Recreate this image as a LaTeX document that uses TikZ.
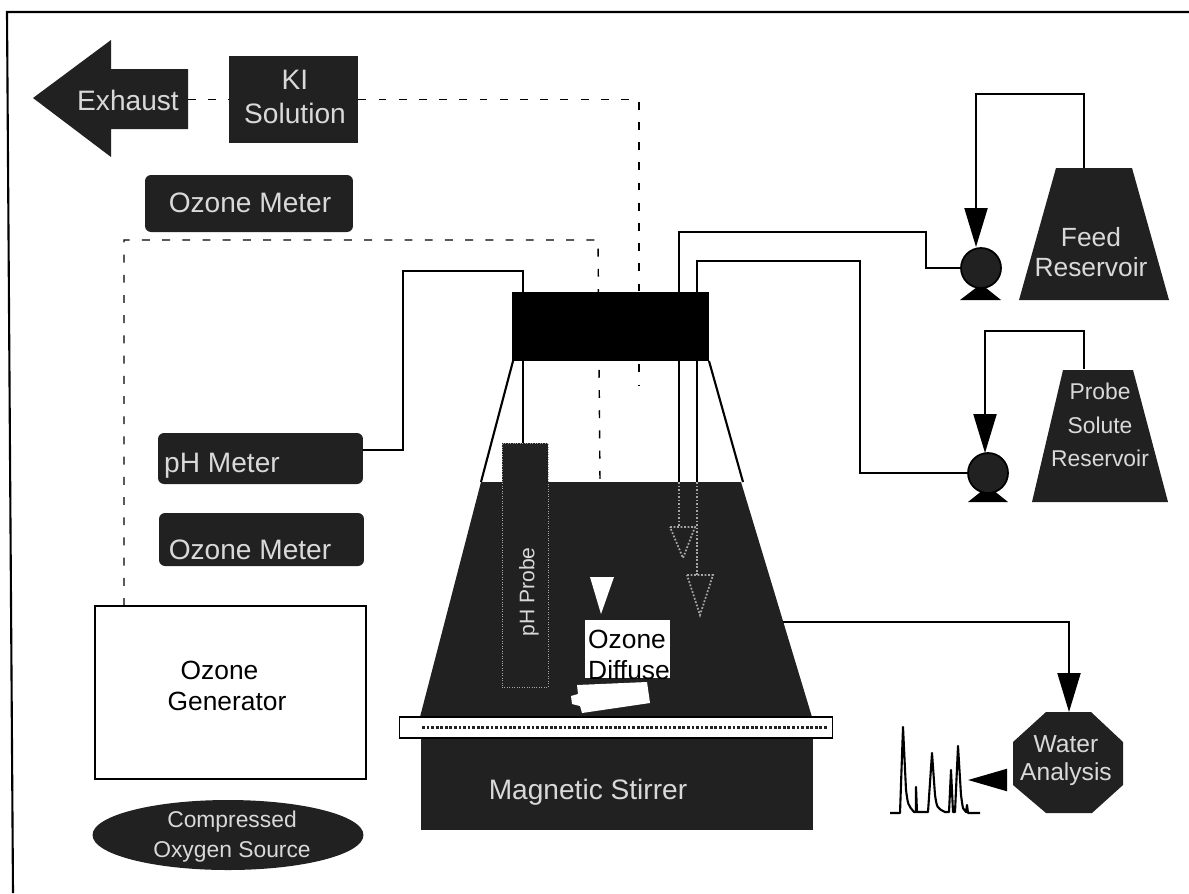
\documentclass[tikz,border=0pt]{standalone}
\usepackage{fontspec}
\setmainfont{Liberation Sans}
\usetikzlibrary{arrows.meta,shapes.geometric}
\definecolor{darkfill}{gray}{0.13}
\tikzset{
  darkbox/.style={rectangle,fill=darkfill,inner sep=0pt},
  meterbox/.style={darkbox,rounded corners=0.12cm},
  darklabel/.style={text=white!85!black,align=center,inner sep=0pt,font=\fontsize{16}{19}\selectfont},
  lightlabel/.style={text=black,align=center,inner sep=0pt,font=\fontsize{15}{18}\selectfont},
  gasline/.style={line width=0.8pt,dash pattern=on 4.5pt off 7pt},
  pipeline/.style={line width=1.2pt},
  bigarrow/.style={pipeline,-{Triangle[length=0.78cm,width=0.46cm]}},
  faintline/.style={gray!70,line width=1pt,densely dotted},
  pumpball/.style={circle,fill=darkfill,draw=black,line width=1pt,inner sep=0pt,minimum size=0.8cm}
}
\begin{document}
\begin{tikzpicture}[x=0.02cm,y=-0.02cm]
\useasboundingbox (0,0) rectangle (1189,893);
\draw[line width=1.2pt] (1189,12) -- (7,12) -- (13,893);
% points where the pipes stop
\coordinate (exhausttail) at (188,99.5);
\coordinate (capgas) at (639,385);
\coordinate (gentop) at (124,606);
\coordinate (liquidgas) at (600,482);
\coordinate (capfeedA) at (679,300);
\coordinate (capfeedB) at (697,300);
\coordinate (pumpAin) at (976,247);
\coordinate (pumpBin) at (985,453);
\coordinate (resAtop) at (1084,168);
\coordinate (resBtop) at (1084,369);
\coordinate (captop) at (523,292);
\coordinate (liquidout) at (783,622);
\coordinate (watertop) at (1069,712);
\coordinate (waterout) at (1007,780);
\coordinate (chromtip) at (968,780);
% left column
\fill[darkfill] (33,98) -- (111,40) -- (111,69) -- (188,69) -- (188,129) -- (111,129) -- (111,157) -- cycle;
\node[darklabel] (exhaust) at (128,100) {Exhaust};
\node[darkbox,minimum width=2.58cm,minimum height=1.74cm] (kibox) at (293.5,99.5) {};
\node[darklabel] (kitext) at (295,97) {KI\\Solution};
\node[meterbox,minimum width=4.16cm,minimum height=1.14cm] (ozonetop) at (249,203.5) {};
\node[darklabel] (ozonetoptext) at (250,203) {Ozone Meter};
\node[meterbox,minimum width=4.1cm,minimum height=1.02cm] (phmeter) at (260.5,458.5) {};
\node[darklabel] (phtext) at (222,466) {pH Meter};
\node[meterbox,minimum width=4.1cm,minimum height=1.06cm] (ozonelow) at (261.5,539.5) {};
\node[darklabel] (ozonelowtext) at (250,550) {Ozone Meter};
\node[draw,line width=1.2pt,rectangle,inner sep=0pt,minimum width=5.42cm,minimum height=3.46cm] (generator) at (230.5,692.5) {};
\node[lightlabel] (generatortext) at (227,686) {Ozone\hspace*{0.3cm}\\Generator};
\node[ellipse,fill=darkfill,inner sep=0pt,minimum width=5.42cm,minimum height=1.4cm] (oxygen) at (228,835) {};
\node[darklabel,font=\fontsize{13}{17}\selectfont] (oxygentext) at (232,837) {Compressed\\Oxygen Source};
% gas lines go under the cap
\draw[gasline] (exhausttail) -- (kibox.west);
\draw[gasline] (kibox.east) -| (capgas);
\draw[gasline] (gentop) -- (124,240) -- (598,240) -- (liquidgas);
% flask
\draw[pipeline] (513,361) -- (481,482);
\draw[pipeline] (709,361) -- (743,482);
\fill[darkfill] (481,482) -- (741,482) -- (812,717) -- (420,717) -- cycle;
\node[rectangle,fill=black,inner sep=0pt,minimum width=3.96cm,minimum height=1.38cm] (cap) at (610.5,326.5) {};
\node[darkbox,draw=gray!70,densely dotted,minimum width=0.92cm,minimum height=4.88cm] (probe) at (525,565) {};
\node[darklabel,rotate=90,font=\fontsize{12}{14}\selectfont] (probetext) at (529,592) {pH Probe};
\draw[pipeline] (cap.south -| captop) -- (probe.north -| captop);
\draw[pipeline] (679,361) -- (679,482);
\draw[pipeline] (697,361) -- (697,482);
\draw[faintline] (679,482) -- (679,527);
\draw[faintline] (697,482) -- (697,575);
\draw[faintline] (670,527) -- (695,527) -- (683,558) -- cycle;
\draw[faintline] (687,575) -- (713,575) -- (700,615) -- cycle;
% diffuser
\fill[white] (590,577) -- (614,577) -- (601,614) -- cycle;
\node[rectangle,fill=white,inner sep=0pt,minimum width=1.7cm,minimum height=1.16cm] (diffuser) at (627.5,649) {};
\node[lightlabel,align=left] (diffusertext) at (629,655) {Ozone\\Diffuse};
\fill[white] (577,685) -- (647,682) -- (650,703) -- (582,713) -- (580,706) -- (572,704) -- (571,696) -- (578,694) -- cycle;
% stirrer and shelf
\node[darkbox,minimum width=7.84cm,minimum height=1.84cm] (stirrer) at (617,784) {};
\node[darklabel] (stirrertext) at (588,792) {Magnetic Stirrer};
\node[rectangle,draw,fill=white,line width=0.8pt,inner sep=0pt,minimum width=8.66cm,minimum height=0.42cm] (shelf) at (616,727.5) {};
\draw[darkfill,line width=1.6pt,densely dotted] (422,727.5) -- (828,727.5);
% pipes
\draw[pipeline] (phmeter.east |- 0,450) -- (403,450) -- (403,271) -- (captop |- 0,271) -- (captop);
% feed reservoirs
\fill[darkfill] (1056,168) -- (1132,168) -- (1169,300) -- (1019,300) -- cycle;
\node[darklabel,font=\fontsize{15}{17}\selectfont] (resAtext) at (1091,252) {Feed\\Reservoir};
\fill[darkfill] (1063,370) -- (1133,370) -- (1168,502) -- (1032,502) -- cycle;
\node[darklabel,font=\fontsize{13}{19}\selectfont] (resBtext) at (1100,425) {Probe\\Solute\\Reservoir};
\fill[black] (960,300) -- (1001,300) -- (981,284) -- cycle;
\fill[black] (968,502) -- (1008,502) -- (988,486) -- cycle;
\node[pumpball] (pumpA) at (981,268) {};
\node[pumpball] (pumpB) at (988,473) {};
\draw[bigarrow] (resAtop) -- (1084,94) -| (pumpAin);
\draw[bigarrow] (resBtop) -- (1084,331) -| (pumpBin);
\draw[pipeline] (capfeedA) -- (679,232) -- (926,232) -- (926,268) -- (pumpA.west);
\draw[pipeline] (capfeedB) -- (697,261) -- (860,261) -- (860,473) -- (pumpB.west);
% analysis
\fill[darkfill] (1046,712) -- (1091,712) -- (1123,742) -- (1123,785) -- (1092,813) -- (1046,813) -- (1013,785) -- (1013,742) -- cycle;
\node[darklabel,font=\fontsize{14}{16}\selectfont] (watertext) at (1066,761) {Water\\Analysis};
\draw[bigarrow] (liquidout) -| (watertop);
\draw[pipeline,-{Triangle[length=0.78cm,width=0.44cm]}] (waterout) -- (chromtip);
\draw[pipeline,line join=round] (890,813) -- (900,813) -- (903,727) -- (906,790) .. controls (908,805) .. (914,812) -- (916,812)
  -- (916,787) -- (917,812) -- (928,812) -- (932,753) -- (935,795) .. controls (937,808) .. (945,812) -- (949,812)
  -- (951,770) -- (953,812) -- (955,812) -- (958,746) -- (961,795) .. controls (963,810) .. (966,812) -- (967,805) -- (968,813) -- (980,813);
\end{tikzpicture}
\end{document}
